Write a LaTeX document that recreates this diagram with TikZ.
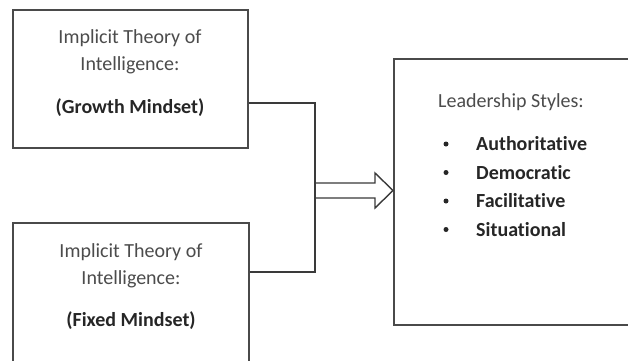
\documentclass[tikz,border=0pt]{standalone}
\usepackage{fontspec}
\setmainfont[Ligatures=NoCommon]{Carlito}
\usepackage{xcolor}
\usetikzlibrary{calc,positioning}
\definecolor{frame}{HTML}{4A4A4A}
\definecolor{wire}{HTML}{3A3A3A}
\definecolor{soft}{HTML}{4C4C4C}
\definecolor{ink}{HTML}{262626}
\tikzset{
  card/.style={draw=frame, line width=2pt, fill=white, inner sep=0pt},
  link/.style={draw=wire, line width=1.4pt, line join=miter},
  hollow/.style={draw=wire, line width=1.4pt, line join=miter},
  lab/.style={text=soft, font=\fontsize{20}{24}\selectfont, inner sep=0pt},
  labb/.style={text=ink, font=\fontsize{20}{24}\selectfont\bfseries, inner sep=0pt},
  dot/.style={circle, fill=ink, inner sep=0pt, minimum size=5pt},
}
\begin{document}
\begin{tikzpicture}[x=1pt,y=-1pt]
\useasboundingbox[fill=white] (0,0) rectangle (628,360);
\begin{scope}
\clip (0,0) rectangle (628,360);
% boxes
\node[card, minimum width=235pt, minimum height=138pt] (growth) at (130,78.5) {};
\node[card, minimum width=236pt, minimum height=150pt] (fixed) at (131,298) {};
\node[card, minimum width=250pt, minimum height=266pt] (styles) at (519,192) {};
\end{scope}
% texts of the two mindsets
\node[lab] (g1) at (130,38) {Implicit Theory of};
\node[lab] (g2) at (130,65) {Intelligence:};
\node[labb] (g3) at (130,108) {(Growth Mindset)};
\node[lab] (f1) at (131,252) {Implicit Theory of};
\node[lab] (f2) at (131,279) {Intelligence:};
\node[labb] (f3) at (131,321) {(Fixed Mindset)};
% leadership styles
\node[lab, anchor=west] (s0) at (438,102) {Leadership Styles:};
\foreach \i/\t in {1/Authoritative,2/Democratic,3/Facilitative,4/Situational}{
  \node[dot] (b\i) at (446,144+28.5*\i-28.5) {};
  \node[labb, anchor=west] (s\i) at (476,144+28.5*\i-28.5) {\t};
}
% bracket
\coordinate (ja) at (315,103);
\coordinate (jb) at (315,272);
\draw[link] (growth.east |- ja) -- (ja) -- (jb) -- (fixed.east |- jb);
% hollow arrow
\coordinate (jm) at (315,190.5);
\coordinate (tip) at (styles.west |- jm);
\draw[hollow] ($(jm)+(0,-7.5)$) -- ($(tip)+(-18,-7.5)$) -- ($(tip)+(-18,-17.5)$)
  -- (tip) -- ($(tip)+(-18,17.5)$) -- ($(tip)+(-18,7.5)$) -- ($(jm)+(0,7.5)$);
\end{tikzpicture}
\end{document}
